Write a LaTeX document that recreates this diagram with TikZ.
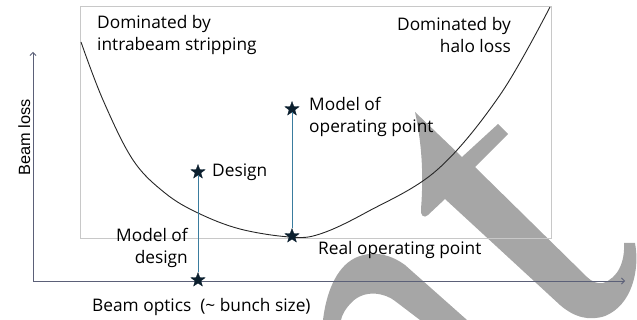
\documentclass[tikz,border=0pt]{standalone}
\usepackage{fontspec}
\setmainfont{Open Sans}
\newfontfamily\arialfont{Liberation Sans}
\usetikzlibrary{shapes.geometric,arrows.meta}
\definecolor{axiscol}{HTML}{5B6078}
\definecolor{framecol}{HTML}{C8C8C8}
\definecolor{linkcol}{HTML}{3A7C9E}
\definecolor{starcol}{HTML}{0B1F2E}
\definecolor{blobcol}{HTML}{A6A6A6}
\tikzset{
  lbl/.style={inner sep=0pt, font=\fontsize{17.3}{22}\selectfont},
  starnode/.style={star, star points=5, star point ratio=2.4, minimum size=15pt, inner sep=0pt, fill=starcol, draw=starcol, line width=0.3pt},
  axisline/.style={draw=axiscol, line width=0.8pt, -{Straight Barb[length=3pt,width=6pt]}},
  link/.style={draw=linkcol, line width=1pt},
  framebox/.style={draw=framecol, line width=0.8pt},
  blob/.style={fill=blobcol, draw=none},
  curveline/.style={draw=black!85, line width=0.9pt}
}
\begin{document}
\begin{tikzpicture}[x=1pt,y=-1pt]
\useasboundingbox (0,0) rectangle (637,320);
% grey background shapes
\path[blob] (415,112) -- (462,157) -- (498,124) -- (508,134) -- (475,167)
  -- (587,277) .. controls (592,282) and (598,284) .. (603,283)
  .. controls (618,278) and (625,262) .. (624,243) -- (635,243)
  .. controls (640,270) and (632,305) .. (605,316)
  .. controls (590,321) and (575,318) .. (560,305)
  -- (445,199) -- (428,215) .. controls (424,219) and (420,215) .. (421,209)
  .. controls (424,170) and (421,140) .. cycle;
\path[blob] (323,320) .. controls (326,295) and (335,268) .. (355,258)
  .. controls (372,250) and (390,254) .. (405,265) -- (467,320) -- (420,320)
  -- (395,301) .. controls (385,293) and (365,289) .. (352,302)
  .. controls (345,309) and (342,315) .. (341,320) -- cycle;
% frame
\draw[framebox] (80,6) rectangle (551,238);
% axes
\coordinate (O) at (33,281);
\coordinate (xtip) at (625,281);
\coordinate (ytip) at (33,52);
\draw[axisline] (O) -- (xtip);
\draw[axisline] (O) -- (ytip);
% curve
\draw[curveline] plot[smooth, tension=0.6] coordinates {(81,42) (103,100) (133,160) (165,193) (198,213) (240,229) (290,237) (320,234) (367,212) (437,170) (500,95) (550,7)};
% stars
\node[starnode] (design) at (198,172) {};
\node[starnode] (mdesign) at (198,280) {};
\node[starnode] (mop) at (292,109) {};
\node[starnode] (rop) at (292,236) {};
\draw[link] (design) -- (mdesign);
\draw[link] (mop) -- (rop);
% labels
\node[lbl, anchor=west, align=left] (domL) at (97,35) {Dominated by\\intrabeam stripping};
\node[lbl, anchor=east, align=right] (domR) at (511,35) {Dominated by\\halo loss};
\node[lbl, anchor=west, align=left] (mopl) at (309,117) {Model of\\operating point};
\node[lbl, anchor=west] (designl) at (212,172) {Design};
\node[lbl, anchor=east, align=right] (mdesignl) at (188,248) {Model of\\design};
\node[lbl, anchor=west] (ropl) at (318,250) {Real operating point};
\node[lbl, anchor=west] (xl) at (92,307) {Beam optics\ \ (\textasciitilde\ bunch size)};
\node[inner sep=0pt, font=\arialfont\fontsize{16.3}{18}\selectfont, rotate=90, anchor=base] (yl) at (30,137.5) {Beam loss};
\end{tikzpicture}
\end{document}
